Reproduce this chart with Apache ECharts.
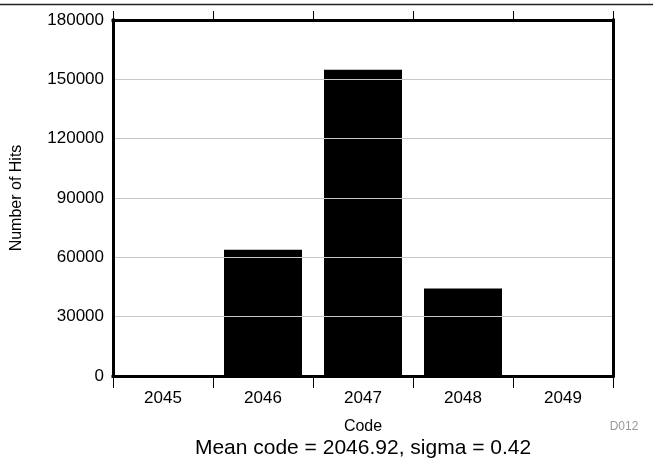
<!DOCTYPE html>
<html>
<head>
<meta charset="utf-8">
<script src="https://cdn.jsdelivr.net/npm/echarts@6/dist/echarts.min.js"></script>
<style>html,body{margin:0;padding:0;background:#fff}#c{width:653px;height:462px}</style>
</head>
<body>
<div id="c"></div>
<script>
var categories = ['2045', '2046', '2047', '2048', '2049'];
var hits = [400, 63800, 154800, 44200, 250];
var yTicks = { min: 0, max: 180000, interval: 30000 };
var xTitle = 'Code';
var yTitle = 'Number of Hits';
var caption = 'Mean code = 2046.92, sigma = 0.42';
var figId = 'D012';

var chart = echarts.init(document.getElementById('c'), null, { renderer: 'canvas' });
var font = 'Liberation Sans, Arial, sans-serif';
var frame = { show: true, onZero: false, lineStyle: { color: '#000', width: 3, cap: 'square' } };
chart.setOption({
  animation: false,
  backgroundColor: '#fff',
  grid: { left: 113, right: 40, top: 20, bottom: 86, show: false },
  xAxis: [{
    type: 'category', data: categories, position: 'bottom',
    axisLine: frame, z: 10,
    axisTick: { show: true, length: 12, lineStyle: { color: '#000', width: 1 } },
    axisLabel: { color: '#000', fontSize: 17, fontFamily: font, margin: 14 },
    splitLine: { show: false }
  }, {
    type: 'category', data: categories, position: 'top',
    axisLine: frame, z: 10,
    axisTick: { show: true, length: 9, lineStyle: { color: '#000', width: 1 } },
    axisLabel: { show: false },
    splitLine: { show: false }
  }],
  yAxis: [{
    type: 'value', min: yTicks.min, max: yTicks.max, interval: yTicks.interval, position: 'left',
    axisLine: frame, axisTick: { show: false }, z: 10,
    axisLabel: { color: '#000', fontSize: 17, fontFamily: font, margin: 9, formatter: function (v) { return String(v); } },
    splitLine: { show: true, lineStyle: { color: '#c8c8c8', width: 1 } }
  }, {
    type: 'value', min: yTicks.min, max: yTicks.max, interval: yTicks.interval, position: 'right',
    axisLine: frame, axisTick: { show: false }, axisLabel: { show: false }, splitLine: { show: false }, z: 10
  }],
  series: [{
    type: 'bar', data: hits, barWidth: '78%', xAxisIndex: 0, yAxisIndex: 0,
    itemStyle: { color: '#000' }
  }],
  graphic: [
    { type: 'line', shape: { x1: 0, y1: 4.5, x2: 653, y2: 4.5 }, style: { stroke: '#222', lineWidth: 1.5 }, z: 100 },
    { type: 'text', x: 17, y: 198, rotation: Math.PI / 2,
      style: { text: yTitle, font: '16px ' + font, fill: '#000', textAlign: 'center', textVerticalAlign: 'middle' } },
    { type: 'text', x: 363, y: 427,
      style: { text: xTitle, font: '16px ' + font, fill: '#000', textAlign: 'center', textVerticalAlign: 'middle' } },
    { type: 'text', x: 363, y: 448,
      style: { text: caption, font: '21px ' + font, fill: '#000', textAlign: 'center', textVerticalAlign: 'middle' } },
    { type: 'text', x: 624, y: 427,
      style: { text: figId, font: '12px ' + font, fill: '#999', textAlign: 'center', textVerticalAlign: 'middle' } }
  ]
});
</script>
</body>
</html>
